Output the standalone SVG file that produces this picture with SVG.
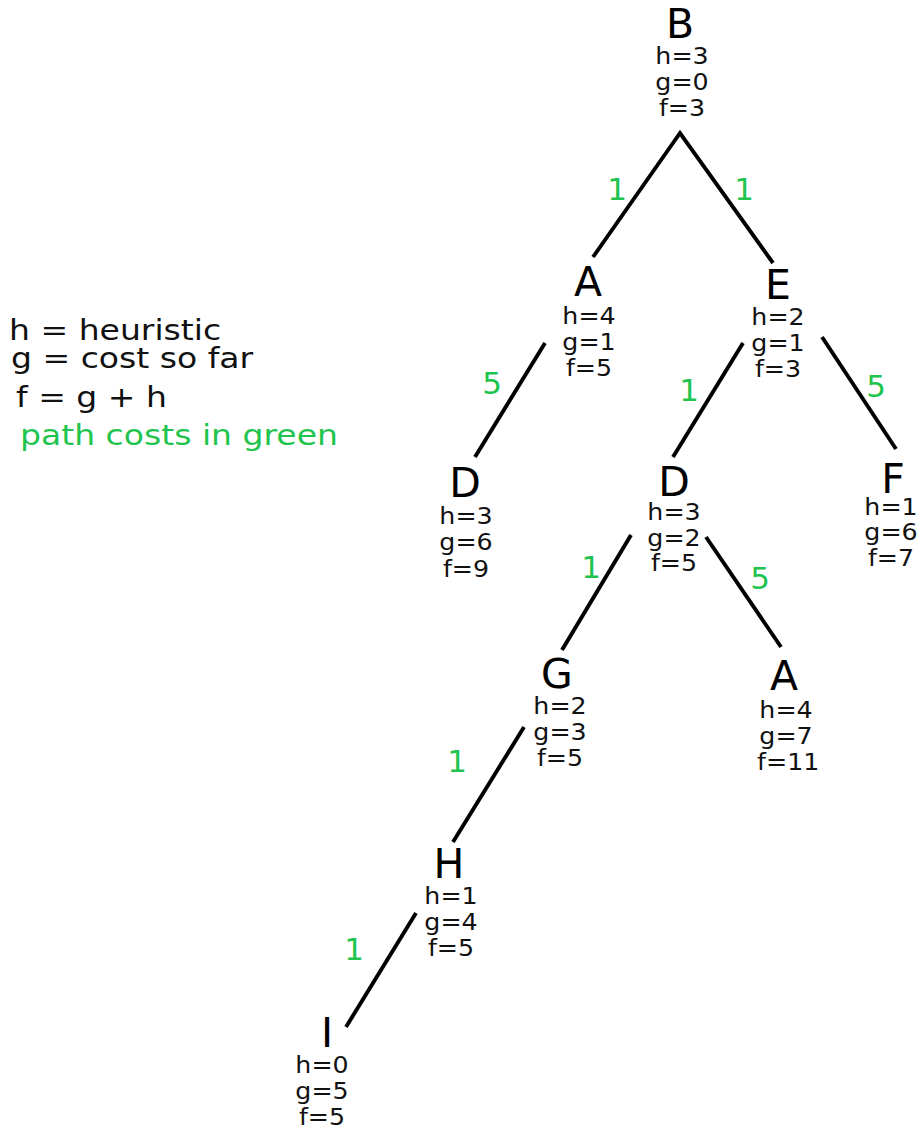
<svg xmlns="http://www.w3.org/2000/svg" width="921" height="1131" viewBox="0 0 921 1131">
<style>
.lbl{font-family:"DejaVu Sans",sans-serif;font-size:41px;fill:#000;text-anchor:middle}
.at{font-family:"DejaVu Sans",sans-serif;font-size:23px;fill:#111;text-anchor:middle}
.cost{font-family:"DejaVu Sans",sans-serif;font-size:31px;fill:#1fc44e;text-anchor:middle}
.leg{font-family:"DejaVu Sans",sans-serif;font-size:29px;fill:#111}
.edge{stroke:#000;stroke-width:3.9;fill:none;stroke-linecap:butt}
</style>
<rect width="921" height="1131" fill="#fff"/>
<g id="legend">
<text class="leg" transform="translate(9,340) scale(1.14,1)">h = heuristic</text>
<text class="leg" transform="translate(11,368) scale(1.14,1)">g = cost so far</text>
<text class="leg" transform="translate(16,407) scale(1.14,1)">f = g + h</text>
<text class="leg" transform="translate(20,445) scale(1.14,1)" style="fill:#1fc44e">path costs in green</text>
</g>
<g id="connectors">
<polyline class="edge" points="593,257 680,133 773,263"/>
<line class="edge" x1="545" y1="343" x2="475" y2="457"/>
<line class="edge" x1="743" y1="343" x2="673" y2="457"/>
<line class="edge" x1="822" y1="337" x2="896" y2="449"/>
<line class="edge" x1="631" y1="535" x2="562" y2="650"/>
<line class="edge" x1="706" y1="537" x2="781" y2="647"/>
<line class="edge" x1="524" y1="727" x2="453" y2="842"/>
<line class="edge" x1="416" y1="913" x2="346" y2="1027"/>
<text class="cost" x="617" y="200">1</text>
<text class="cost" x="744" y="200">1</text>
<text class="cost" x="492" y="394">5</text>
<text class="cost" x="689" y="401">1</text>
<text class="cost" x="876" y="397">5</text>
<text class="cost" x="591" y="578">1</text>
<text class="cost" x="760" y="589">5</text>
<text class="cost" x="457" y="772">1</text>
<text class="cost" x="354" y="960">1</text>
</g>
<g id="node-B">
<text class="lbl" x="680" y="38">B</text>
<g transform="translate(682,0) scale(1.1,1)">
<text class="at" x="0" y="64">h=3</text>
<text class="at" x="0" y="90">g=0</text>
<text class="at" x="0" y="116">f=3</text>
</g>
</g>
<g id="node-A1">
<text class="lbl" x="588" y="296">A</text>
<g transform="translate(589,0) scale(1.1,1)">
<text class="at" x="0" y="324">h=4</text>
<text class="at" x="0" y="350">g=1</text>
<text class="at" x="0" y="376">f=5</text>
</g>
</g>
<g id="node-E">
<text class="lbl" x="778" y="299">E</text>
<g transform="translate(778,0) scale(1.1,1)">
<text class="at" x="0" y="325">h=2</text>
<text class="at" x="0" y="351">g=1</text>
<text class="at" x="0" y="377">f=3</text>
</g>
</g>
<g id="node-D1">
<text class="lbl" x="465" y="497">D</text>
<g transform="translate(466,0) scale(1.1,1)">
<text class="at" x="0" y="524">h=3</text>
<text class="at" x="0" y="550">g=6</text>
<text class="at" x="0" y="577">f=9</text>
</g>
</g>
<g id="node-D2">
<text class="lbl" x="674" y="496">D</text>
<g transform="translate(674,0) scale(1.1,1)">
<text class="at" x="0" y="520">h=3</text>
<text class="at" x="0" y="546">g=2</text>
<text class="at" x="0" y="571">f=5</text>
</g>
</g>
<g id="node-F">
<text class="lbl" x="893" y="493">F</text>
<g transform="translate(891,0) scale(1.1,1)">
<text class="at" x="0" y="515">h=1</text>
<text class="at" x="0" y="540">g=6</text>
<text class="at" x="0" y="566">f=7</text>
</g>
</g>
<g id="node-G">
<text class="lbl" x="557" y="688">G</text>
<g transform="translate(560,0) scale(1.1,1)">
<text class="at" x="0" y="714">h=2</text>
<text class="at" x="0" y="740">g=3</text>
<text class="at" x="0" y="766">f=5</text>
</g>
</g>
<g id="node-A2">
<text class="lbl" x="784" y="690">A</text>
<g transform="translate(786,0) scale(1.1,1)">
<text class="at" x="0" y="718">h=4</text>
<text class="at" x="0" y="744">g=7</text>
<text class="at" x="2" y="770">f=11</text>
</g>
</g>
<g id="node-H">
<text class="lbl" x="449" y="878">H</text>
<g transform="translate(451,0) scale(1.1,1)">
<text class="at" x="0" y="904">h=1</text>
<text class="at" x="0" y="930">g=4</text>
<text class="at" x="0" y="956">f=5</text>
</g>
</g>
<g id="node-I">
<text class="lbl" x="327" y="1047">I</text>
<g transform="translate(322,0) scale(1.1,1)">
<text class="at" x="0" y="1073">h=0</text>
<text class="at" x="0" y="1099">g=5</text>
<text class="at" x="0" y="1125">f=5</text>
</g>
</g>
</svg>
